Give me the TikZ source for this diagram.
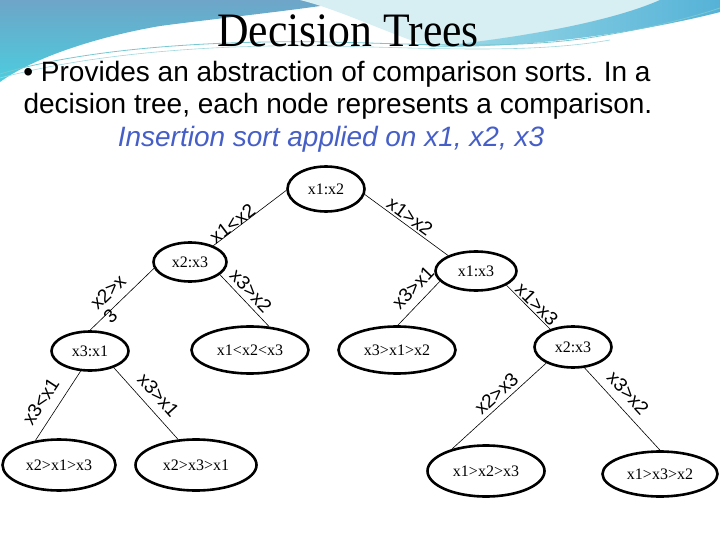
\documentclass[tikz,border=0pt]{standalone}
\usepackage{fontspec}
\setmainfont{Liberation Serif}
\setsansfont{Liberation Sans}
\usetikzlibrary{shapes.geometric}
\pgfdeclarelayer{back}
\pgfdeclarelayer{mid}
\pgfsetlayers{back,mid,main}
\definecolor{insblue}{RGB}{70,95,200}
\definecolor{skyA}{RGB}{110,165,200}
\definecolor{skyB}{RGB}{75,205,222}
\definecolor{paleC}{RGB}{215,238,243}
\definecolor{bandL}{RGB}{160,220,232}
\definecolor{bandR}{RGB}{85,178,215}
\definecolor{swline}{RGB}{120,200,210}
\begin{document}
\begin{tikzpicture}[x=1pt,y=-1pt,
  tnode/.style={ellipse, draw, line width=2.6pt, fill=white, inner sep=0pt,
    font=\fontsize{16}{18}\selectfont},
  elab/.style={sloped, inner sep=0pt, font=\sffamily\fontsize{19}{19}\selectfont},
  conn/.style={line width=0.6pt},
  txt/.style={anchor=base, inner sep=0pt}]
\useasboundingbox (0,0) rectangle (720,540);

% background swoosh
\begin{pgfonlayer}{back}
\fill[white] (0,0) rectangle (720,540);
\shade[top color=skyA, bottom color=skyB]
  (0,0) -- (360,0) .. controls (300,10) and (220,18) .. (160,26)
  .. controls (90,38) and (30,60) .. (0,82) -- cycle;
\fill[paleC] (300,0) -- (720,0) -- (720,12) .. controls (650,30) and (540,48) .. (430,47)
  .. controls (380,30) and (340,10) .. (300,0) -- cycle;
\shade[left color=bandL, right color=bandR]
  (430,47) .. controls (540,48) and (650,30) .. (720,12) -- (720,0) -- (660,0)
  .. controls (610,22) and (520,38) .. (430,47) -- cycle;
\draw[swline, line width=0.8pt] (0,74) .. controls (80,50) and (200,40) .. (330,42)
  .. controls (420,44) and (520,50) .. (600,36) .. controls (650,28) and (690,18) .. (720,8);
\draw[swline!70, line width=0.6pt] (0,78) .. controls (90,54) and (210,44) .. (330,46)
  .. controls (430,48) and (530,54) .. (610,40);
\end{pgfonlayer}

% text
\node[txt, font=\fontsize{48}{50}\selectfont, xscale=0.91] (title) at (348,47) {Decision Trees};
\node[txt, font=\sffamily\fontsize{28}{33}\selectfont] (l1) at (337,82)
  {• Provides an abstraction of comparison sorts. In a};
\node[txt, font=\sffamily\fontsize{28}{33}\selectfont] (l2) at (338,114)
  {decision tree, each node represents a comparison.};
\node[txt, font=\sffamily\itshape\fontsize{28}{33}\selectfont, text=insblue] (l3) at (331,147)
  {Insertion sort applied on x1, x2, x3};

% tree nodes
\node[tnode, minimum width=77pt, minimum height=45pt] (A) at (326,189) {x1:x2};
\node[tnode, minimum width=73pt, minimum height=39pt] (B) at (190,262) {x2:x3};
\node[tnode, minimum width=81pt, minimum height=39pt] (C) at (476,271) {x1:x3};
\node[tnode, minimum width=77pt, minimum height=39pt] (D) at (90,351) {x3:x1};
\node[tnode, minimum width=117pt, minimum height=47pt] (E) at (250,350) {x1<x2<x3};
\node[tnode, minimum width=117pt, minimum height=47pt] (F) at (397,350) {x3>x1>x2};
\node[tnode, minimum width=77pt, minimum height=41pt] (G) at (573,347) {x2:x3};
\node[tnode, minimum width=113pt, minimum height=51pt] (H) at (59,465) {x2>x1>x3};
\node[tnode, minimum width=121pt, minimum height=51pt] (I) at (196,465) {x2>x3>x1};
\node[tnode, minimum width=117pt, minimum height=51pt] (J) at (486,471) {x1>x2>x3};
\node[tnode, minimum width=115pt, minimum height=45pt] (K) at (660,474) {x1>x3>x2};

% connectors
\begin{pgfonlayer}{mid}
\draw[conn] (A.182) -- node[elab, pos=0.69, above=-1pt] {x1<x2} (B.35);
\draw[conn] (A.-8) -- node[elab, pos=0.48, above=2pt] {x1>x2} (C.151);
\draw[conn] (B.190) -- node[elab, pos=0.555, above=-11pt, align=left] {x2>x\\3} (D.90);
\draw[conn] (B.337) -- node[elab, pos=0.46, above=4.5pt] {x3>x2} (E.51);
\draw[conn] (C.196) -- node[elab, pos=0.38, above=8pt] {x3>x1} (F.88);
\draw[conn] (C.335) -- node[elab, pos=0.565, above=1pt] {x1>x3} (G.142);
\draw[conn] (D.245) -- node[elab, pos=0.565, above=10pt] {x3<x1} (H.134);
\draw[conn] (D.325) -- node[elab, pos=0.52, above=8pt] {x3>x1} (I.125);
\draw[conn] (G.211) -- node[elab, pos=0.45, above=4pt] {x2>x3} (J.147);
\draw[conn] (G.299) -- node[elab, pos=0.43, above=8pt] {x3>x2} (K.90);
\end{pgfonlayer}
\end{tikzpicture}
\end{document}
